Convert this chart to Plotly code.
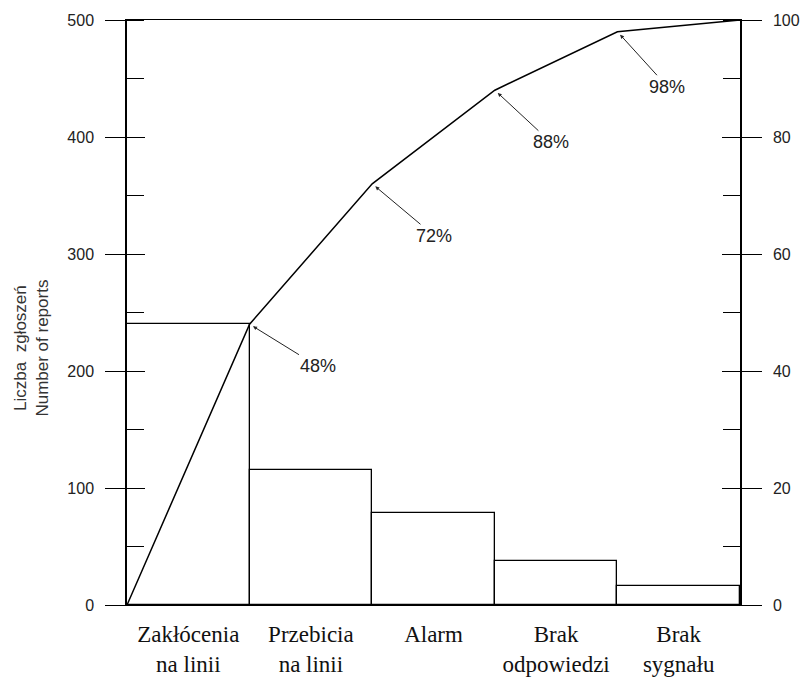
import plotly.graph_objects as go

categories = ["Zakłócenia<br>na linii", "Przebicia<br>na linii", "Alarm", "Brak<br>odpowiedzi", "Brak<br>sygnału"]
counts = [240, 115, 79, 38, 16]
cum_pct = [0, 48, 72, 88, 98, 100]
pct_labels = ["48%", "72%", "88%", "98%"]
label_offsets = [(68, 42), (62, 52), (56, 52), (50, 55)]

bar_x = [i + 0.5 for i in range(len(categories))]
line_x = list(range(len(cum_pct)))

fig = go.Figure()
fig.add_trace(go.Bar(x=bar_x, y=counts, width=1,
                     marker=dict(color="white", line=dict(color="black", width=1.3)),
                     showlegend=False, hoverinfo="skip"))
fig.add_trace(go.Scatter(x=line_x, y=cum_pct, yaxis="y2", mode="lines",
                         line=dict(color="black", width=1.5), showlegend=False))
fig.add_trace(go.Scatter(x=[None], y=[None], yaxis="y3", showlegend=False))
fig.add_trace(go.Scatter(x=[None], y=[None], yaxis="y4", showlegend=False))

for i, (lab, (ax, ay)) in enumerate(zip(pct_labels, label_offsets)):
    fig.add_annotation(x=line_x[i + 1], y=cum_pct[i + 1], yref="y2", text=lab,
                       showarrow=True, ax=ax, ay=ay, arrowhead=2, arrowsize=0.8,
                       arrowwidth=1, arrowcolor="#222", standoff=4,
                       font=dict(family="Liberation Sans", size=18, color="#222"))

fig.add_annotation(xref="paper", yref="paper", x=-0.155, y=0.44, xanchor="center",
                   text="Liczba  zgłoszeń<br>Number of reports", textangle=-90,
                   showarrow=False, font=dict(family="Liberation Sans", size=17, color="#333"))

tickfont = dict(family="Liberation Sans", size=16, color="#222")

fig.update_layout(
    width=802, height=681,
    margin=dict(l=127, r=62, t=20, b=76),
    plot_bgcolor="white", paper_bgcolor="white",
    bargap=0,
    xaxis=dict(range=[0, 5], tickvals=bar_x, ticktext=categories, ticks="",
               showline=True, linecolor="black", linewidth=1.2, mirror=True,
               showgrid=False, zeroline=False, ticklabelstandoff=8, automargin=False,
               tickfont=dict(family="Liberation Serif", size=23, color="#111")),
    yaxis=dict(range=[0, 500], dtick=100, ticks="outside", ticklen=20,
               tickcolor="black", tickwidth=1.3, showline=True, linecolor="black",
               linewidth=1.5, showgrid=False, zeroline=False, tickfont=tickfont,
               ticklabelstandoff=8, automargin=False,
               minor=dict(dtick=50, ticks="inside", ticklen=17, tickcolor="black", tickwidth=1.2)),
    yaxis2=dict(range=[0, 100], dtick=20, overlaying="y", side="right",
                ticks="outside", ticklen=20, tickcolor="black", tickwidth=1.3,
                showline=True, linecolor="black", linewidth=1.5, showgrid=False,
                zeroline=False, tickfont=tickfont, ticklabelstandoff=8, automargin=False,
                minor=dict(dtick=10, ticks="inside", ticklen=17, tickcolor="black", tickwidth=1.2)),
    yaxis3=dict(range=[0, 500], dtick=100, overlaying="y", side="left",
                ticks="inside", ticklen=18, tickcolor="black", tickwidth=1.3, automargin=False,
                showticklabels=False, showgrid=False, zeroline=False, showline=False),
    yaxis4=dict(range=[0, 100], dtick=20, overlaying="y", side="right",
                ticks="inside", ticklen=18, tickcolor="black", tickwidth=1.3, automargin=False,
                showticklabels=False, showgrid=False, zeroline=False, showline=False),
)

fig.write_html("out.html", config={"displayModeBar": False},
               post_script="document.body.style.margin='0';document.body.style.overflow='hidden';")
